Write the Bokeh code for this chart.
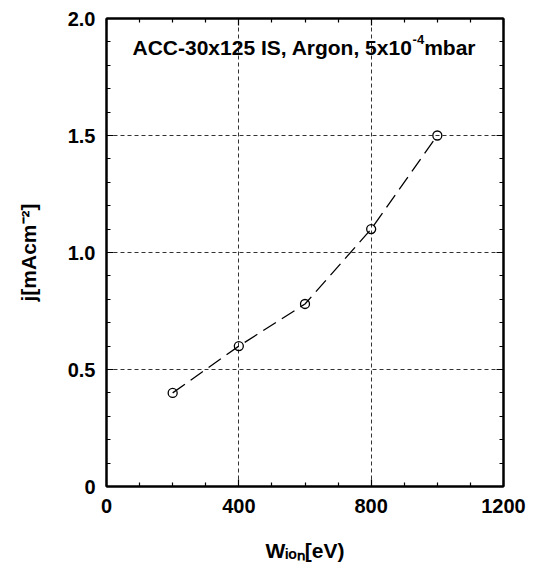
from bokeh.plotting import figure
from bokeh.models import Range1d, FixedTicker, LinearAxis, Label
from bokeh.embed import file_html
from bokeh.resources import INLINE

# ---- data ----
energy_eV = [200, 400, 600, 800, 1000]
current_density = [0.40, 0.60, 0.78, 1.10, 1.50]

x_ticks = [0, 400, 800, 1200]
x_tick_labels = ["0", "400", "800", "1200"]
x_minor = [100, 200, 300, 500, 600, 700, 900, 1000, 1100]
y_ticks = [0, 0.5, 1.0, 1.5, 2.0]
y_tick_labels = ["0", "0.5", "1.0", "1.5", "2.0"]
y_minor = [0.1, 0.2, 0.3, 0.4, 0.6, 0.7, 0.8, 0.9, 1.1, 1.2, 1.3, 1.4, 1.6, 1.7, 1.8, 1.9]

x_label = "W\u1d62\u2092\u2099[eV)"
y_label = "j[mAcm\u207b\u00b2]"
title_main = "ACC-30x125 IS, Argon, 5x10"
title_sup = "-4"
title_end = "mbar"

X0, X1, Y0, Y1 = 0, 1200, 0, 2.0
FONT = "Liberation Sans"

# ---- layout (canvas px) ----
W, H = 535, 570
BL, BT, FW, FH = 106, 18, 397, 468
BR = W - BL - FW
BB = H - BT - FH


def dx(px):
    return X0 + (px - BL) / FW * (X1 - X0)


def dy(py):
    return Y0 + (BT + FH - py) / FH * (Y1 - Y0)


p = figure(width=W, height=H, x_range=Range1d(X0, X1), y_range=Range1d(Y0, Y1),
           output_backend="svg", toolbar_location=None,
           min_border_left=BL, min_border_right=BR, min_border_top=BT, min_border_bottom=BB)
p.background_fill_color = "white"
p.border_fill_color = "white"
p.outline_line_color = "black"
p.outline_line_width = 2

bottom_ax = p.below[0]
left_ax = p.left[0]
top_ax = LinearAxis()
right_ax = LinearAxis()
p.add_layout(top_ax, "above")
p.add_layout(right_ax, "right")


def style_axis(ax, ticks, labels, minor, show, standoff=10):
    ax.ticker = FixedTicker(ticks=ticks, minor_ticks=minor)
    ax.major_tick_in = 7
    ax.major_tick_out = 0
    ax.minor_tick_in = 4
    ax.minor_tick_out = 0
    ax.axis_line_color = "black"
    ax.axis_line_width = 2
    ax.major_tick_line_color = "black"
    ax.major_tick_line_width = 1.2
    ax.minor_tick_line_color = "black"
    ax.minor_tick_line_width = 1.2
    ax.major_label_text_font = FONT
    ax.major_label_text_font_style = "bold"
    ax.major_label_text_color = "black"
    ax.major_label_text_font_size = "20px"
    ax.axis_label_text_font = FONT
    ax.axis_label_text_font_style = "bold"
    ax.axis_label_text_font_size = "21px"
    ax.axis_label_text_color = "black"
    if show:
        ax.major_label_overrides = {t: l for t, l in zip(ticks, labels)}
        ax.major_label_standoff = standoff
    else:
        ax.major_label_overrides = {t: "" for t in ticks}
        ax.major_label_standoff = 0


style_axis(bottom_ax, x_ticks, x_tick_labels, x_minor, True, 12)
style_axis(left_ax, y_ticks, y_tick_labels, y_minor, True, 11)
style_axis(top_ax, x_ticks, x_tick_labels, x_minor, False)
style_axis(right_ax, y_ticks, y_tick_labels, y_minor, False)

bottom_ax.axis_label = x_label
bottom_ax.axis_label_standoff = 23
left_ax.axis_label = y_label
left_ax.axis_label_standoff = 25

p.xgrid.ticker = FixedTicker(ticks=x_ticks[1:-1])
p.ygrid.ticker = FixedTicker(ticks=y_ticks[1:-1])
for g in (p.xgrid[0], p.ygrid[0]):
    g.grid_line_color = "#333333"
    g.grid_line_dash = "4 3"
    g.grid_line_width = 1

p.line(energy_eV, current_density, line_color="black", line_width=1.3, line_dash="15 7")
p.scatter(energy_eV, current_density, marker="circle", size=9, fill_color=None,
          line_color="black", line_width=1.3)


def lab(px, py, text, size):
    p.add_layout(Label(x=dx(px), y=dy(py), text=text, text_font=FONT,
                       text_font_style="bold", text_font_size=f"{size}px",
                       text_color="black", text_align="left",
                       text_baseline="alphabetic"))


# em widths (Arial/Liberation Sans Bold)
EM = {"A": .722, "C": .722, "-": .333, "0": .556, "1": .556, "2": .556, "3": .556,
      "4": .556, "5": .556, "x": .556, " ": .278, "I": .278, "S": .667, ",": .278,
      "r": .389, "g": .611, "o": .611, "n": .611, "m": .889, "b": .611, "a": .556}


def tw(s, size):
    return sum(EM.get(ch, .556) for ch in s) * size


# title inside plot
TS, SS = 21, 13
tx, tb = BL + 26, 47
lab(tx, tb, title_main, TS)
tx += tw(title_main, TS)
lab(tx, tb - 8, title_sup, SS)
tx += tw(title_sup, SS)
lab(tx, tb, title_end, TS)

open("out.html", "w").write(file_html(p, INLINE))
